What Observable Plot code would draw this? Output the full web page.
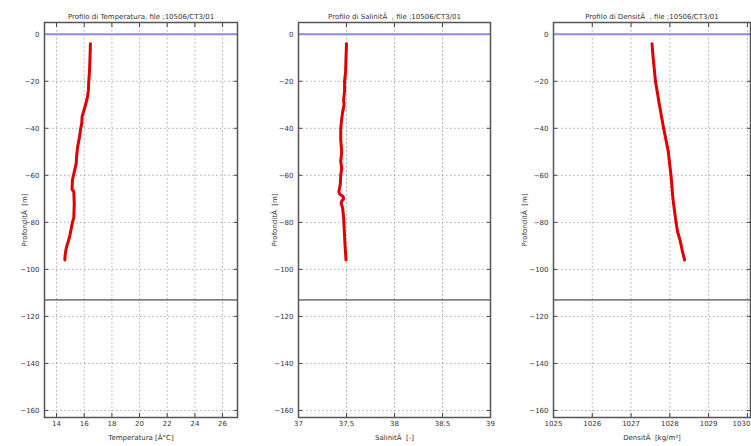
<!DOCTYPE html>
<html>
<head>
<meta charset="utf-8">
<script src="https://cdn.jsdelivr.net/npm/d3@7"></script>
<script src="https://cdn.jsdelivr.net/npm/@observablehq/plot@0.6"></script>
<style>
  html, body { margin: 0; padding: 0; background: #fff; }
  #wrap { position: relative; width: 751px; height: 446px; overflow: hidden; background: #fff; }
  .panel { position: absolute; top: 0; }
  svg { font-family: "DejaVu Sans", sans-serif; }
</style>
</head>
<body>
<div id="wrap"></div>
<script>
// ---- data ----
const depthTicks = [0, -20, -40, -60, -80, -100, -120, -140, -160];
const seabed = -113;
const surface = 0;

const tempTicks = [14, 16, 18, 20, 22, 24, 26];
const tempDepth = [-4, -10, -16, -20, -24, -27, -30, -33, -35, -38, -40, -44, -48, -52, -55, -58, -62, -66, -67, -72, -78, -80, -83, -86, -89, -91, -94, -96];
const tempValue = [16.45, 16.42, 16.38, 16.33, 16.30, 16.22, 16.10, 15.95, 15.85, 15.82, 15.75, 15.65, 15.52, 15.45, 15.42, 15.30, 15.15, 15.12, 15.25, 15.28, 15.25, 15.15, 15.05, 14.95, 14.80, 14.70, 14.62, 14.60];

const salTicks = [37, 37.5, 38, 38.5, 39];
const salDepth = [-4, -10, -16, -20, -24, -28, -30, -33, -36, -40, -45, -50, -54, -57, -60, -64, -67, -68, -69, -70, -71, -72, -74, -78, -82, -86, -90, -93, -96];
const salValue = [37.500, 37.495, 37.490, 37.480, 37.480, 37.470, 37.475, 37.460, 37.450, 37.440, 37.440, 37.450, 37.440, 37.450, 37.440, 37.435, 37.420, 37.430, 37.465, 37.470, 37.450, 37.445, 37.460, 37.470, 37.475, 37.480, 37.485, 37.490, 37.495];

const densTicks = [1025, 1026, 1027, 1028, 1029, 1030];
const densDepth = [-4, -10, -20, -30, -40, -50, -60, -70, -80, -84, -88, -92, -96];
const densValue = [1027.54, 1027.57, 1027.63, 1027.73, 1027.84, 1027.96, 1028.03, 1028.08, 1028.16, 1028.20, 1028.27, 1028.32, 1028.38];

const titles = [
  "Profilo di Temperatura, file ;10506/CT3/01",
  "Profilo di SalinitÃ  , file ;10506/CT3/01",
  "Profilo di DensitÃ  , file ;10506/CT3/01"
];
const xLabels = ["Temperatura [Â°C]", "SalinitÃ  [-]", "DensitÃ  [kg/m³]"];
const yLabel = "ProfonditÃ  [m]";

// ---- drawing ----
function panel({left, width, marginLeft, marginRight, xDomain, xTicks, tickFormat, depth, values, title, xLabel, endTick}) {
  const data = depth.map((d, i) => ({depth: d, v: values[i]}));
  const labelTicks = endTick ? xTicks.slice(0, -1) : xTicks;
  const marks = [
    Plot.gridX(xTicks, {stroke: "#888", strokeOpacity: 1, strokeWidth: 0.7, strokeDasharray: "1.5,2.5"}),
    Plot.gridY(depthTicks, {stroke: "#888", strokeOpacity: 1, strokeWidth: 0.7, strokeDasharray: "1.5,2.5"}),
    Plot.axisX(labelTicks, {anchor: "bottom", tickSize: 0, tickPadding: 4, tickFormat,
      label: xLabel, labelAnchor: "center", labelArrow: "none", labelOffset: 22}),
    Plot.axisX(xTicks, {anchor: "bottom", tickSize: -4, text: null, label: null, stroke: "#444"}),
    Plot.axisX(xTicks, {anchor: "top", tickSize: -4, text: null, label: null, stroke: "#444"}),
    Plot.axisY(depthTicks, {anchor: "left", tickSize: 0, tickPadding: 5,
      label: yLabel, labelAnchor: "center", labelArrow: "none", labelOffset: marginLeft - 22}),
    Plot.axisY(depthTicks, {anchor: "left", tickSize: -4, text: null, label: null, stroke: "#444"}),
    Plot.axisY(depthTicks, {anchor: "right", tickSize: -4, text: null, label: null, stroke: "#444"}),
    Plot.ruleY([surface], {stroke: "#8c8cf0", strokeWidth: 2}),
    Plot.ruleY([seabed], {stroke: "#222", strokeWidth: 1}),
    Plot.line(data, {x: "v", y: "depth", stroke: "#e00000", strokeWidth: 3, curve: "linear"}),
    Plot.frame({stroke: "#555", strokeWidth: 1.5}),
    Plot.text([title], {frameAnchor: "top", dy: -8, fontSize: 7, fill: "#333"})
  ];
  if (endTick) {
    marks.push(Plot.axisX(xTicks.slice(-1), {anchor: "bottom", tickSize: 0, tickPadding: 4, tickFormat,
      textAnchor: "end", dx: 3, label: null}));
  }
  const chart = Plot.plot({
    width, height: 446,
    marginLeft, marginRight, marginTop: 22, marginBottom: 29,
    style: {fontSize: "7px", color: "#333", background: "transparent"},
    x: {domain: xDomain},
    y: {domain: [-163, 5]},
    marks
  });
  const div = document.createElement("div");
  div.className = "panel";
  div.style.left = left + "px";
  div.appendChild(chart);
  document.getElementById("wrap").appendChild(div);
}

panel({left: 0, width: 250, marginLeft: 44, marginRight: 13, xDomain: [13.13, 27.08], xTicks: tempTicks,
  tickFormat: d => String(d), depth: tempDepth, values: tempValue, title: titles[0], xLabel: xLabels[0]});
panel({left: 250, width: 250, marginLeft: 48, marginRight: 10, xDomain: [37, 39], xTicks: salTicks,
  tickFormat: d => String(d).replace(".", ","), depth: salDepth, values: salValue, title: titles[1], xLabel: xLabels[1]});
panel({left: 500, width: 251, marginLeft: 53, marginRight: 1, xDomain: [1025, 1030.08], xTicks: densTicks,
  tickFormat: d => String(d), depth: densDepth, values: densValue, title: titles[2], xLabel: xLabels[2], endTick: true});
</script>
</body>
</html>
